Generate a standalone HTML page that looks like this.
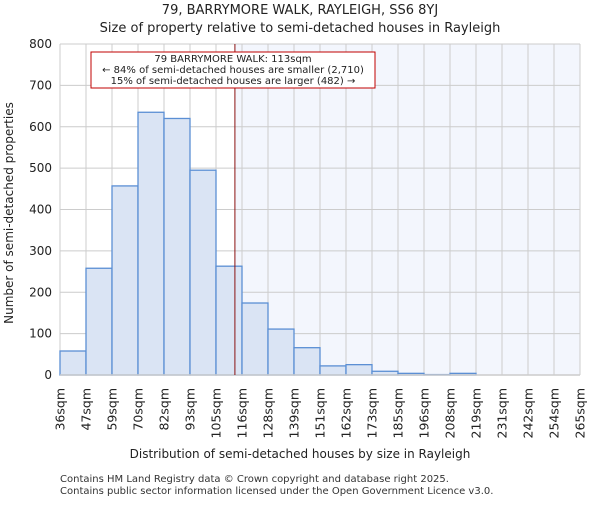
<!DOCTYPE html>
<html><head><meta charset="utf-8"><style>body{margin:0;background:#fff}svg{font-family:"DejaVu Sans","Liberation Sans",sans-serif}</style></head>
<body>
<svg id="c" width="600" height="500">
<text x="300" y="14" text-anchor="middle" font-size="13" fill="#222">79, BARRYMORE WALK, RAYLEIGH, SS6 8YJ</text>
<text x="300" y="32" text-anchor="middle" font-size="13" fill="#222">Size of property relative to semi-detached houses in Rayleigh</text>
<text x="300" y="458" text-anchor="middle" font-size="12" fill="#222">Distribution of semi-detached houses by size in Rayleigh</text>
<text transform="translate(13,213) rotate(-90)" text-anchor="middle" font-size="12" fill="#222">Number of semi-detached properties</text>
<text x="60" y="482" font-size="10" fill="#333">Contains HM Land Registry data © Crown copyright and database right 2025.</text>
<text x="60" y="494" font-size="10" fill="#333">Contains public sector information licensed under the Open Government Licence v3.0.</text>
</svg>
<script>
const categories=["36sqm","47sqm","59sqm","70sqm","82sqm","93sqm","105sqm","116sqm","128sqm","139sqm","151sqm","162sqm","173sqm","185sqm","196sqm","208sqm","219sqm","231sqm","242sqm","254sqm","265sqm"];
const counts=[58,258,457,635,620,495,263,174,111,66,22,25,9,4,1,4,0,0,0,0];
const yTicks=[0,100,200,300,400,500,600,700,800];
const propertyBin=6+8/11;
const NS="http://www.w3.org/2000/svg",svg=document.getElementById('c');
const L=60,R=580,T=44,B=375,bw=(R-L)/counts.length;
const xs=i=>L+i*bw, ys=v=>B-(v/800)*(B-T);
function mk(t,a){const e=document.createElementNS(NS,t);for(const k in a)e.setAttribute(k,a[k]);svg.appendChild(e);return e;}
const px=xs(propertyBin);
let bg=mk('rect',{x:px,y:T,width:R-px,height:B-T,fill:'#f3f6fd'});


yTicks.forEach(v=>{const g=mk('line',{x1:L,x2:R,y1:ys(v),y2:ys(v),stroke:'#cccccc'});


const t=mk('text',{x:L-8,y:ys(v)+4,'text-anchor':'end','font-size':12,fill:'#222'});t.textContent=v;

});
categories.forEach((c,i)=>{const g=mk('line',{x1:xs(i),x2:xs(i),y1:T,y2:B,stroke:'#cccccc'});


const t=mk('text',{transform:`translate(${xs(i)+4.5},388) rotate(-90)`,'text-anchor':'end','font-size':12.5,fill:'#222'});t.textContent=c;

});
counts.forEach((v,i)=>{if(v<=0)return;const r=mk('rect',{x:xs(i),y:ys(v),width:bw,height:B-ys(v),fill:'#dae4f4',stroke:'#5b8fd4','stroke-width':1.3});

});
let ax=mk('line',{x1:L,x2:R,y1:B,y2:B,stroke:'#cccccc','stroke-width':1.5});


let pl=mk('line',{x1:px,x2:px,y1:T,y2:B,stroke:'#8a1010','stroke-width':1});


let box=mk('rect',{x:91,y:52,width:284,height:36,fill:'#fff',stroke:'#c00000','stroke-width':1});


["79 BARRYMORE WALK: 113sqm","← 84% of semi-detached houses are smaller (2,710)","15% of semi-detached houses are larger (482) →"].forEach((s,i)=>{const t=mk('text',{x:233,y:62+i*11,'text-anchor':'middle','font-size':10,fill:'#222'});t.textContent=s;

});
</script>
</body></html>
